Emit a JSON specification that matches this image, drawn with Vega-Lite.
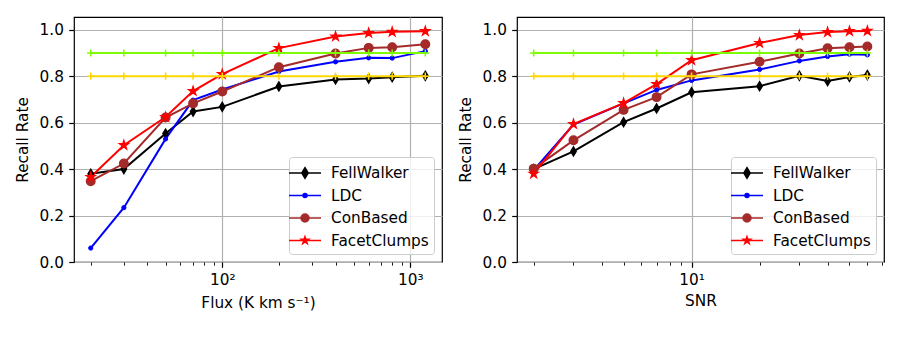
{
  "$schema": "https://vega.github.io/schema/vega-lite/v6.json",
  "padding": {"left": 15, "top": 16, "right": 5, "bottom": 5},
  "background": "white",
  "datasets": {
    "flux": [
      {"x": 20, "y": 0.38, "method": "FellWalker"}, {"x": 30, "y": 0.40, "method": "FellWalker"}, {"x": 50, "y": 0.553, "method": "FellWalker"}, {"x": 70, "y": 0.648, "method": "FellWalker"}, {"x": 100, "y": 0.668, "method": "FellWalker"}, {"x": 200, "y": 0.756, "method": "FellWalker"}, {"x": 400, "y": 0.786, "method": "FellWalker"}, {"x": 600, "y": 0.79, "method": "FellWalker"}, {"x": 800, "y": 0.796, "method": "FellWalker"}, {"x": 1200, "y": 0.802, "method": "FellWalker"},
      {"x": 20, "y": 0.06, "method": "LDC"}, {"x": 30, "y": 0.234, "method": "LDC"}, {"x": 50, "y": 0.53, "method": "LDC"}, {"x": 70, "y": 0.697, "method": "LDC"}, {"x": 100, "y": 0.743, "method": "LDC"}, {"x": 200, "y": 0.82, "method": "LDC"}, {"x": 400, "y": 0.862, "method": "LDC"}, {"x": 600, "y": 0.879, "method": "LDC"}, {"x": 800, "y": 0.878, "method": "LDC"}, {"x": 1200, "y": 0.908, "method": "LDC"},
      {"x": 20, "y": 0.348, "method": "ConBased"}, {"x": 30, "y": 0.424, "method": "ConBased"}, {"x": 50, "y": 0.622, "method": "ConBased"}, {"x": 70, "y": 0.683, "method": "ConBased"}, {"x": 100, "y": 0.734, "method": "ConBased"}, {"x": 200, "y": 0.839, "method": "ConBased"}, {"x": 400, "y": 0.898, "method": "ConBased"}, {"x": 600, "y": 0.922, "method": "ConBased"}, {"x": 800, "y": 0.925, "method": "ConBased"}, {"x": 1200, "y": 0.938, "method": "ConBased"},
      {"x": 20, "y": 0.366, "method": "FacetClumps"}, {"x": 30, "y": 0.503, "method": "FacetClumps"}, {"x": 50, "y": 0.624, "method": "FacetClumps"}, {"x": 70, "y": 0.736, "method": "FacetClumps"}, {"x": 100, "y": 0.809, "method": "FacetClumps"}, {"x": 200, "y": 0.921, "method": "FacetClumps"}, {"x": 400, "y": 0.971, "method": "FacetClumps"}, {"x": 600, "y": 0.986, "method": "FacetClumps"}, {"x": 800, "y": 0.991, "method": "FacetClumps"}, {"x": 1200, "y": 0.994, "method": "FacetClumps"},
      {"x": 20, "y": 0.9, "method": "ref90"}, {"x": 30, "y": 0.9, "method": "ref90"}, {"x": 50, "y": 0.9, "method": "ref90"}, {"x": 70, "y": 0.9, "method": "ref90"}, {"x": 100, "y": 0.9, "method": "ref90"}, {"x": 200, "y": 0.9, "method": "ref90"}, {"x": 400, "y": 0.9, "method": "ref90"}, {"x": 600, "y": 0.9, "method": "ref90"}, {"x": 800, "y": 0.9, "method": "ref90"}, {"x": 1200, "y": 0.9, "method": "ref90"},
      {"x": 20, "y": 0.8, "method": "ref80"}, {"x": 30, "y": 0.8, "method": "ref80"}, {"x": 50, "y": 0.8, "method": "ref80"}, {"x": 70, "y": 0.8, "method": "ref80"}, {"x": 100, "y": 0.8, "method": "ref80"}, {"x": 200, "y": 0.8, "method": "ref80"}, {"x": 400, "y": 0.8, "method": "ref80"}, {"x": 600, "y": 0.8, "method": "ref80"}, {"x": 800, "y": 0.8, "method": "ref80"}, {"x": 1200, "y": 0.8, "method": "ref80"}
    ],
    "snr": [
      {"x": 2, "y": 0.40, "method": "FellWalker"}, {"x": 3, "y": 0.476, "method": "FellWalker"}, {"x": 5, "y": 0.602, "method": "FellWalker"}, {"x": 7, "y": 0.661, "method": "FellWalker"}, {"x": 10, "y": 0.731, "method": "FellWalker"}, {"x": 20, "y": 0.757, "method": "FellWalker"}, {"x": 30, "y": 0.802, "method": "FellWalker"}, {"x": 40, "y": 0.779, "method": "FellWalker"}, {"x": 50, "y": 0.797, "method": "FellWalker"}, {"x": 60, "y": 0.805, "method": "FellWalker"},
      {"x": 2, "y": 0.395, "method": "LDC"}, {"x": 3, "y": 0.592, "method": "LDC"}, {"x": 5, "y": 0.683, "method": "LDC"}, {"x": 7, "y": 0.741, "method": "LDC"}, {"x": 10, "y": 0.782, "method": "LDC"}, {"x": 20, "y": 0.829, "method": "LDC"}, {"x": 30, "y": 0.866, "method": "LDC"}, {"x": 40, "y": 0.885, "method": "LDC"}, {"x": 50, "y": 0.895, "method": "LDC"}, {"x": 60, "y": 0.892, "method": "LDC"},
      {"x": 2, "y": 0.402, "method": "ConBased"}, {"x": 3, "y": 0.524, "method": "ConBased"}, {"x": 5, "y": 0.655, "method": "ConBased"}, {"x": 7, "y": 0.71, "method": "ConBased"}, {"x": 10, "y": 0.808, "method": "ConBased"}, {"x": 20, "y": 0.862, "method": "ConBased"}, {"x": 30, "y": 0.898, "method": "ConBased"}, {"x": 40, "y": 0.92, "method": "ConBased"}, {"x": 50, "y": 0.925, "method": "ConBased"}, {"x": 60, "y": 0.928, "method": "ConBased"},
      {"x": 2, "y": 0.38, "method": "FacetClumps"}, {"x": 3, "y": 0.594, "method": "FacetClumps"}, {"x": 5, "y": 0.684, "method": "FacetClumps"}, {"x": 7, "y": 0.766, "method": "FacetClumps"}, {"x": 10, "y": 0.869, "method": "FacetClumps"}, {"x": 20, "y": 0.943, "method": "FacetClumps"}, {"x": 30, "y": 0.977, "method": "FacetClumps"}, {"x": 40, "y": 0.99, "method": "FacetClumps"}, {"x": 50, "y": 0.994, "method": "FacetClumps"}, {"x": 60, "y": 0.995, "method": "FacetClumps"},
      {"x": 2, "y": 0.9, "method": "ref90"}, {"x": 3, "y": 0.9, "method": "ref90"}, {"x": 5, "y": 0.9, "method": "ref90"}, {"x": 7, "y": 0.9, "method": "ref90"}, {"x": 10, "y": 0.9, "method": "ref90"}, {"x": 20, "y": 0.9, "method": "ref90"}, {"x": 30, "y": 0.9, "method": "ref90"}, {"x": 40, "y": 0.9, "method": "ref90"}, {"x": 50, "y": 0.9, "method": "ref90"}, {"x": 60, "y": 0.9, "method": "ref90"},
      {"x": 2, "y": 0.8, "method": "ref80"}, {"x": 3, "y": 0.8, "method": "ref80"}, {"x": 5, "y": 0.8, "method": "ref80"}, {"x": 7, "y": 0.8, "method": "ref80"}, {"x": 10, "y": 0.8, "method": "ref80"}, {"x": 20, "y": 0.8, "method": "ref80"}, {"x": 30, "y": 0.8, "method": "ref80"}, {"x": 40, "y": 0.8, "method": "ref80"}, {"x": 50, "y": 0.8, "method": "ref80"}, {"x": 60, "y": 0.8, "method": "ref80"}
    ]
  },
  "spacing": 15,
  "resolve": {"scale": {"color": "independent", "shape": "independent"}, "legend": {"color": "independent", "shape": "independent"}},
  "hconcat": [
    {
      "width": 368, "height": 245,
      "data": {"name": "flux"},
      "encoding": {
        "x": {"field": "x", "type": "quantitative",
          "scale": {"type": "log", "domain": [16.3, 1472], "nice": false, "zero": false},
          "axis": {"title": "Flux (K km s⁻¹)", "titlePadding": 8,
            "values": [20, 30, 40, 50, 60, 70, 80, 90, 100, 200, 300, 400, 500, 600, 700, 800, 900, 1000],
            "labelExpr": "datum.value == 100 ? '10²' : datum.value == 1000 ? '10³' : ''",
            "tickSize": {"condition": {"test": "datum.value == 100 || datum.value == 1000", "value": 5.3}, "value": 3.1},
            "tickWidth": {"condition": {"test": "datum.value == 100 || datum.value == 1000", "value": 1.2}, "value": 0.9},
            "gridOpacity": {"condition": {"test": "datum.value == 100 || datum.value == 1000", "value": 1}, "value": 0},
            "labelOverlap": false, "labelFlush": false}},
        "y": {"field": "y", "type": "quantitative",
          "scale": {"domain": [0, 1.055], "nice": false, "zero": false},
          "axis": {"title": "Recall Rate", "values": [0, 0.2, 0.4, 0.6, 0.8, 1.0], "format": ".1f"}}
      },
      "layer": [
        {
          "transform": [{"filter": "indexof(['FellWalker','LDC','ConBased','FacetClumps'], datum.method) >= 0"}],
          "mark": {"type": "line", "strokeWidth": 2},
          "encoding": {
            "color": {"field": "method", "type": "nominal", "scale": {"domain": ["FellWalker", "LDC", "ConBased", "FacetClumps"], "range": ["black", "blue", "#a52a2a", "red"]}}
          }
        },
        {
          "transform": [{"filter": "indexof(['FellWalker','LDC','ConBased','FacetClumps'], datum.method) >= 0"}],
          "mark": {"type": "point", "filled": true, "opacity": 0},
          "encoding": {
            "color": {"field": "method", "type": "nominal", "scale": {"domain": ["FellWalker", "LDC", "ConBased", "FacetClumps"], "range": ["black", "blue", "#a52a2a", "red"]},
              "legend": {"title": null, "orient": "bottom-right", "offset": 8, "labelFont": "DejaVu Sans", "labelFontSize": 15.3, "labelColor": "black", "symbolSize": 400, "symbolStrokeWidth": 1.5, "symbolOpacity": 1, "rowPadding": 2.5, "labelOffset": 15, "padding": 5, "fillColor": "rgba(255,255,255,0.8)", "strokeColor": "#cccccc", "cornerRadius": 3}},
            "shape": {"field": "method", "type": "nominal", "scale": {"domain": ["FellWalker", "LDC", "ConBased", "FacetClumps"], "range": ["M-1.6,0L1.6,0M0,-0.53L0.32,0L0,0.53L-0.32,0Z", "M-1.6,0L1.6,0M0.2,0A0.2,0.2,0,1,1,-0.2,0A0.2,0.2,0,1,1,0.2,0Z", "M-1.6,0L1.6,0M0.4,0A0.4,0.4,0,1,1,-0.4,0A0.4,0.4,0,1,1,0.4,0Z", "M-1.6,0L1.6,0M0,-0.38L0.086,-0.117L0.361,-0.117L0.138,0.045L0.223,0.307L0,0.145L-0.223,0.307L-0.138,0.045L-0.361,-0.117L-0.086,-0.117Z"]},
              "legend": {"title": null, "orient": "bottom-right", "offset": 8, "labelFont": "DejaVu Sans", "labelFontSize": 15.3, "labelColor": "black", "symbolSize": 400, "symbolStrokeWidth": 1.5, "symbolOpacity": 1, "rowPadding": 2.5, "labelOffset": 15, "padding": 5, "fillColor": "rgba(255,255,255,0.8)", "strokeColor": "#cccccc", "cornerRadius": 3}}
          }
        },
        {
          "transform": [{"filter": "datum.method === 'FellWalker'"}],
          "mark": {"type": "point", "filled": true, "opacity": 1, "shape": "M0,-1L0.6,0L0,1L-0.6,0Z", "size": 85, "color": "black", "stroke": "black", "strokeWidth": 1.3},
          "encoding": {}
        },
        {
          "transform": [{"filter": "datum.method === 'LDC'"}],
          "mark": {"type": "point", "filled": true, "opacity": 1, "shape": "circle", "size": 18, "color": "blue", "stroke": "blue", "strokeWidth": 1},
          "encoding": {}
        },
        {
          "transform": [{"filter": "datum.method === 'ConBased'"}],
          "mark": {"type": "point", "filled": true, "opacity": 1, "shape": "circle", "size": 75, "color": "#a52a2a", "stroke": "#a52a2a", "strokeWidth": 1.3},
          "encoding": {}
        },
        {
          "transform": [{"filter": "datum.method === 'FacetClumps'"}],
          "mark": {"type": "point", "filled": true, "opacity": 1, "shape": "M0,-1L0.225,-0.309L0.951,-0.309L0.363,0.118L0.588,0.809L0,0.382L-0.588,0.809L-0.363,0.118L-0.951,-0.309L-0.225,-0.309Z", "size": 90, "color": "red", "stroke": "red", "strokeWidth": 1.3},
          "encoding": {}
        },
        {
          "transform": [{"filter": "datum.method === 'ref90'"}],
          "mark": {"type": "line", "color": "#7CFC00", "strokeWidth": 2, "point": {"shape": "M-1,0L1,0M0,-1L0,1", "filled": false, "size": 52, "strokeWidth": 1.5, "color": "#7CFC00", "opacity": 1}},
          "encoding": {}
        },
        {
          "transform": [{"filter": "datum.method === 'ref80'"}],
          "mark": {"type": "line", "color": "#FFD700", "strokeWidth": 2, "point": {"shape": "M-1,0L1,0M0,-1L0,1", "filled": false, "size": 52, "strokeWidth": 1.5, "color": "#FFD700", "opacity": 1}},
          "encoding": {}
        }
      ]
    },
    {
      "width": 367, "height": 245,
      "data": {"name": "snr"},
      "encoding": {
        "x": {"field": "x", "type": "quantitative",
          "scale": {"type": "log", "domain": [1.687, 71.1], "nice": false, "zero": false},
          "axis": {"title": "SNR", "titlePadding": 6,
            "values": [2, 3, 4, 5, 6, 7, 8, 9, 10, 20, 30, 40, 50, 60, 70],
            "labelExpr": "datum.value == 10 ? '10¹' : ''",
            "tickSize": {"condition": {"test": "datum.value == 10", "value": 5.3}, "value": 3.1},
            "tickWidth": {"condition": {"test": "datum.value == 10", "value": 1.2}, "value": 0.9},
            "gridOpacity": {"condition": {"test": "datum.value == 10", "value": 1}, "value": 0},
            "labelOverlap": false, "labelFlush": false}},
        "y": {"field": "y", "type": "quantitative",
          "scale": {"domain": [0, 1.055], "nice": false, "zero": false},
          "axis": {"title": "Recall Rate", "values": [0, 0.2, 0.4, 0.6, 0.8, 1.0], "format": ".1f"}}
      },
      "layer": [
        {
          "transform": [{"filter": "indexof(['FellWalker','LDC','ConBased','FacetClumps'], datum.method) >= 0"}],
          "mark": {"type": "line", "strokeWidth": 2},
          "encoding": {
            "color": {"field": "method", "type": "nominal", "scale": {"domain": ["FellWalker", "LDC", "ConBased", "FacetClumps"], "range": ["black", "blue", "#a52a2a", "red"]}}
          }
        },
        {
          "transform": [{"filter": "indexof(['FellWalker','LDC','ConBased','FacetClumps'], datum.method) >= 0"}],
          "mark": {"type": "point", "filled": true, "opacity": 0},
          "encoding": {
            "color": {"field": "method", "type": "nominal", "scale": {"domain": ["FellWalker", "LDC", "ConBased", "FacetClumps"], "range": ["black", "blue", "#a52a2a", "red"]},
              "legend": {"title": null, "orient": "bottom-right", "offset": 8, "labelFont": "DejaVu Sans", "labelFontSize": 15.3, "labelColor": "black", "symbolSize": 400, "symbolStrokeWidth": 1.5, "symbolOpacity": 1, "rowPadding": 2.5, "labelOffset": 15, "padding": 5, "fillColor": "rgba(255,255,255,0.8)", "strokeColor": "#cccccc", "cornerRadius": 3}},
            "shape": {"field": "method", "type": "nominal", "scale": {"domain": ["FellWalker", "LDC", "ConBased", "FacetClumps"], "range": ["M-1.6,0L1.6,0M0,-0.53L0.32,0L0,0.53L-0.32,0Z", "M-1.6,0L1.6,0M0.2,0A0.2,0.2,0,1,1,-0.2,0A0.2,0.2,0,1,1,0.2,0Z", "M-1.6,0L1.6,0M0.4,0A0.4,0.4,0,1,1,-0.4,0A0.4,0.4,0,1,1,0.4,0Z", "M-1.6,0L1.6,0M0,-0.38L0.086,-0.117L0.361,-0.117L0.138,0.045L0.223,0.307L0,0.145L-0.223,0.307L-0.138,0.045L-0.361,-0.117L-0.086,-0.117Z"]},
              "legend": {"title": null, "orient": "bottom-right", "offset": 8, "labelFont": "DejaVu Sans", "labelFontSize": 15.3, "labelColor": "black", "symbolSize": 400, "symbolStrokeWidth": 1.5, "symbolOpacity": 1, "rowPadding": 2.5, "labelOffset": 15, "padding": 5, "fillColor": "rgba(255,255,255,0.8)", "strokeColor": "#cccccc", "cornerRadius": 3}}
          }
        },
        {
          "transform": [{"filter": "datum.method === 'FellWalker'"}],
          "mark": {"type": "point", "filled": true, "opacity": 1, "shape": "M0,-1L0.6,0L0,1L-0.6,0Z", "size": 85, "color": "black", "stroke": "black", "strokeWidth": 1.3},
          "encoding": {}
        },
        {
          "transform": [{"filter": "datum.method === 'LDC'"}],
          "mark": {"type": "point", "filled": true, "opacity": 1, "shape": "circle", "size": 18, "color": "blue", "stroke": "blue", "strokeWidth": 1},
          "encoding": {}
        },
        {
          "transform": [{"filter": "datum.method === 'ConBased'"}],
          "mark": {"type": "point", "filled": true, "opacity": 1, "shape": "circle", "size": 75, "color": "#a52a2a", "stroke": "#a52a2a", "strokeWidth": 1.3},
          "encoding": {}
        },
        {
          "transform": [{"filter": "datum.method === 'FacetClumps'"}],
          "mark": {"type": "point", "filled": true, "opacity": 1, "shape": "M0,-1L0.225,-0.309L0.951,-0.309L0.363,0.118L0.588,0.809L0,0.382L-0.588,0.809L-0.363,0.118L-0.951,-0.309L-0.225,-0.309Z", "size": 90, "color": "red", "stroke": "red", "strokeWidth": 1.3},
          "encoding": {}
        },
        {
          "transform": [{"filter": "datum.method === 'ref90'"}],
          "mark": {"type": "line", "color": "#7CFC00", "strokeWidth": 2, "point": {"shape": "M-1,0L1,0M0,-1L0,1", "filled": false, "size": 52, "strokeWidth": 1.5, "color": "#7CFC00", "opacity": 1}},
          "encoding": {}
        },
        {
          "transform": [{"filter": "datum.method === 'ref80'"}],
          "mark": {"type": "line", "color": "#FFD700", "strokeWidth": 2, "point": {"shape": "M-1,0L1,0M0,-1L0,1", "filled": false, "size": 52, "strokeWidth": 1.5, "color": "#FFD700", "opacity": 1}},
          "encoding": {}
        }
      ]
    }
  ],
  "config": {
    "font": "DejaVu Sans",
    "view": {"stroke": "black", "strokeWidth": 1.2},
    "axis": {
      "domain": false,
      "tickColor": "black", "tickSize": 5.3, "tickWidth": 1.2,
      "labelFont": "DejaVu Sans", "labelFontSize": 15.3, "labelColor": "black", "labelPadding": 5.3,
      "titleFont": "DejaVu Sans", "titleFontSize": 15.3, "titleFontWeight": "normal", "titleColor": "black", "titlePadding": 8.3,
      "grid": true, "gridColor": "#b0b0b0", "gridWidth": 1.2
    },
    "axisX": {"labelPadding": 5.3}
  }
}
